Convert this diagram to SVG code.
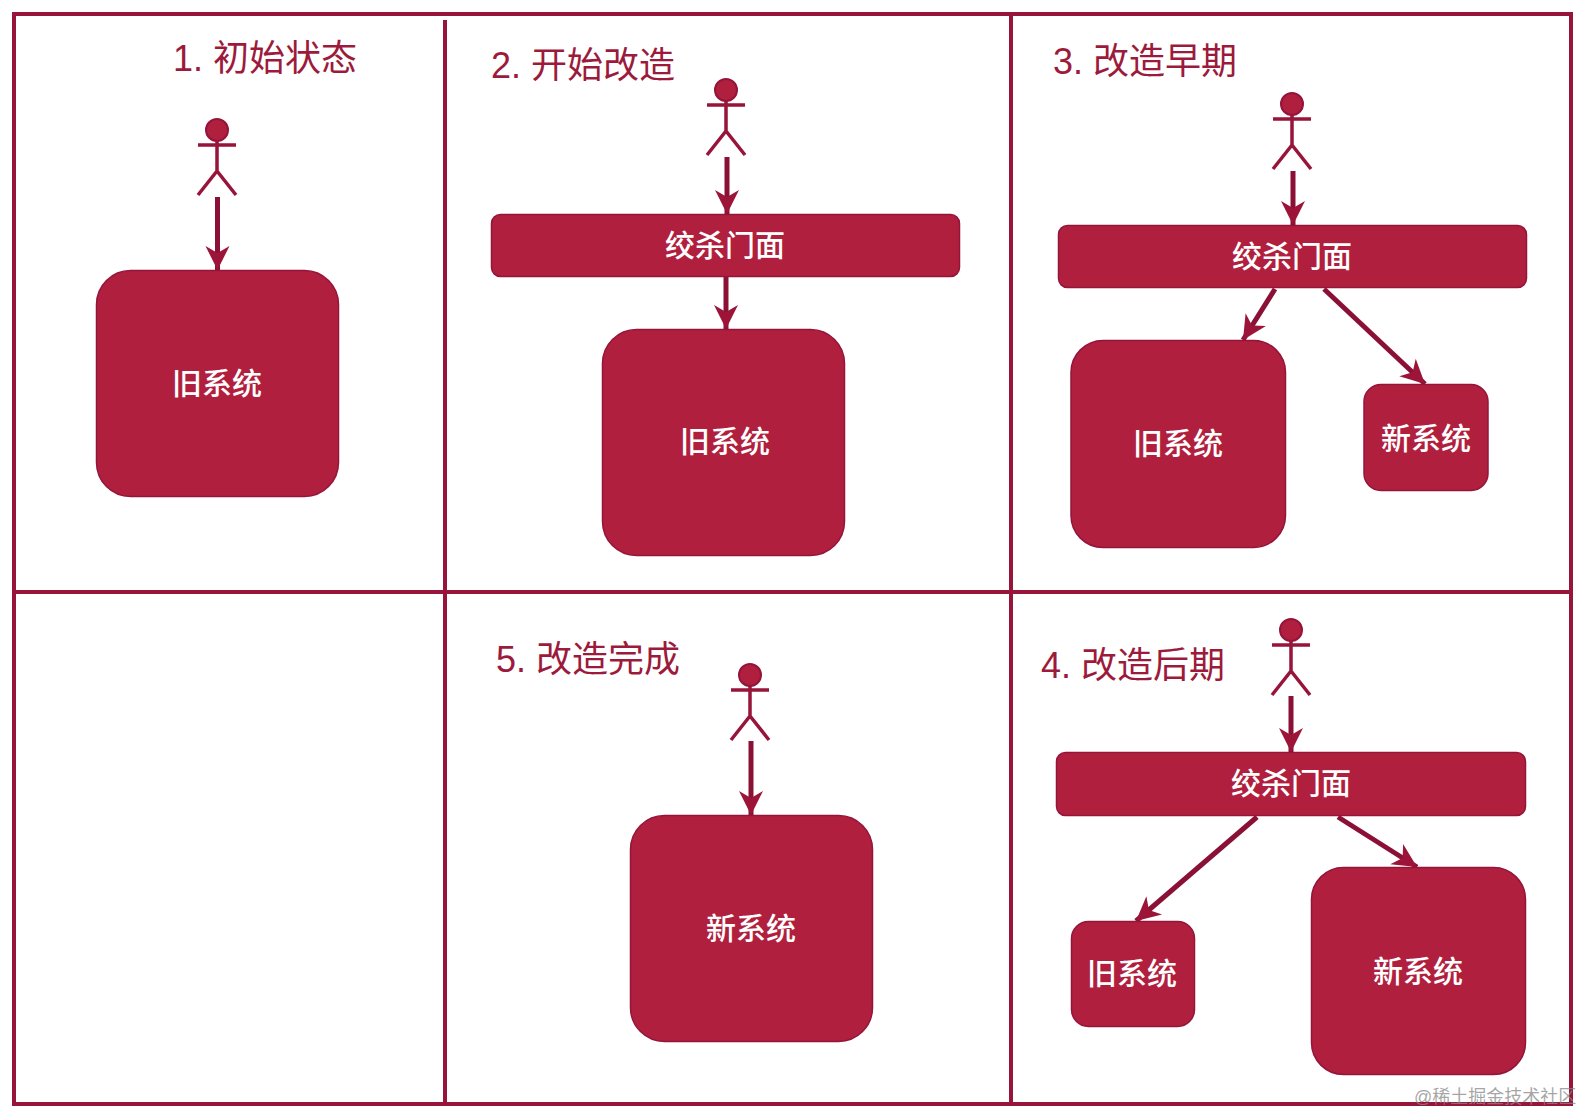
<svg xmlns="http://www.w3.org/2000/svg" width="1581" height="1114" viewBox="0 0 1581 1114">
<style>
text{font-family:"Liberation Sans","Noto Sans CJK SC",sans-serif}
.t{font-size:36px;fill:#9c1a3b}
.l{font-size:30px;fill:#fff;text-anchor:middle;dominant-baseline:central;font-weight:500}
.b{fill:#b01f3e;stroke:#95143a;stroke-width:1.500}
.g{fill:none;stroke:#97153a;stroke-width:4}
.c{fill:none;stroke:#8a1036;stroke-width:5;marker-end:url(#a)}
.p{fill:none;stroke:#97153a;stroke-width:3.500}
.h{fill:#b01f3e;stroke:#95143a;stroke-width:2}
</style>
<defs>
<marker id="a" markerUnits="userSpaceOnUse" markerWidth="28" markerHeight="30" refX="25" refY="13" orient="auto">
<path d="M25,13 L1,1 L8,13 L1,25 Z" fill="#9c1539"/>
</marker>
<g id="actor">
<circle class="h" cx="0" cy="0" r="11"/>
<path class="p" d="M-19,15H19M0,11V41M0,41L-19,65M0,41L19,65"/>
</g>
</defs>
<rect width="1581" height="1114" fill="#fff"/>
<g id="frame">
<rect class="g" x="14" y="14" width="1557" height="1090"/>
<path class="g" d="M445,20V1104M1011,14V1104M14,592H1571"/>
</g>
<g id="connectors">
<path class="c" d="M217.500,197V270"/>
<path class="c" d="M727,157V214"/>
<path class="c" d="M726,277V329"/>
<path class="c" d="M1293,171V225"/>
<path class="c" d="M1275,289L1243,340"/>
<path class="c" d="M1324,289L1425,384"/>
<path class="c" d="M1291,696V752"/>
<path class="c" d="M1257,817L1136,921"/>
<path class="c" d="M1338,817L1417,867"/>
<path class="c" d="M751,741V815"/>
</g>
<g id="panel1">
<text class="t" x="173" y="71">1. 初始状态</text>
<use id="actor1" href="#actor" x="217" y="130"/>
<g id="old1"><rect class="b" x="96.500" y="270.500" width="242" height="226" rx="34"/><text class="l" x="217" y="383">旧系统</text></g>
</g>
<g id="panel2">
<text class="t" x="491" y="78">2. 开始改造</text>
<use id="actor2" href="#actor" x="726" y="90"/>
<g id="facade2"><rect class="b" x="491.500" y="214.500" width="468" height="62" rx="9"/><text class="l" x="725" y="245">绞杀门面</text></g>
<g id="old2"><rect class="b" x="602.500" y="329.500" width="242" height="226" rx="34"/><text class="l" x="725" y="441">旧系统</text></g>
</g>
<g id="panel3">
<text class="t" x="1053" y="74">3. 改造早期</text>
<use id="actor3" href="#actor" x="1292" y="104"/>
<g id="facade3"><rect class="b" x="1058.500" y="225.500" width="468" height="62" rx="9"/><text class="l" x="1292" y="256">绞杀门面</text></g>
<g id="old3"><rect class="b" x="1071" y="340.500" width="214.500" height="207" rx="32"/><text class="l" x="1178" y="443">旧系统</text></g>
<g id="new3"><rect class="b" x="1364" y="384.500" width="124" height="106" rx="17"/><text class="l" x="1426" y="438">新系统</text></g>
</g>
<g id="panel4">
<text class="t" x="1041" y="678">4. 改造后期</text>
<use id="actor4" href="#actor" x="1291" y="630"/>
<g id="facade4"><rect class="b" x="1056.500" y="752.500" width="469" height="63" rx="9"/><text class="l" x="1291" y="783">绞杀门面</text></g>
<g id="old4"><rect class="b" x="1071.500" y="921.500" width="123" height="105" rx="17"/><text class="l" x="1132" y="973">旧系统</text></g>
<g id="new4"><rect class="b" x="1311.500" y="867.500" width="214" height="207" rx="32"/><text class="l" x="1418" y="971">新系统</text></g>
</g>
<g id="panel5">
<text class="t" x="496" y="672" textLength="184">5. 改造完成</text>
<use id="actor5" href="#actor" x="750" y="675"/>
<g id="new5"><rect class="b" x="630.500" y="815.500" width="242" height="226" rx="34"/><text class="l" x="751" y="928">新系统</text></g>
</g>
<text x="1414" y="1103" font-size="18" fill="#888" fill-opacity=".75">@稀土掘金技术社区</text>
</svg>
